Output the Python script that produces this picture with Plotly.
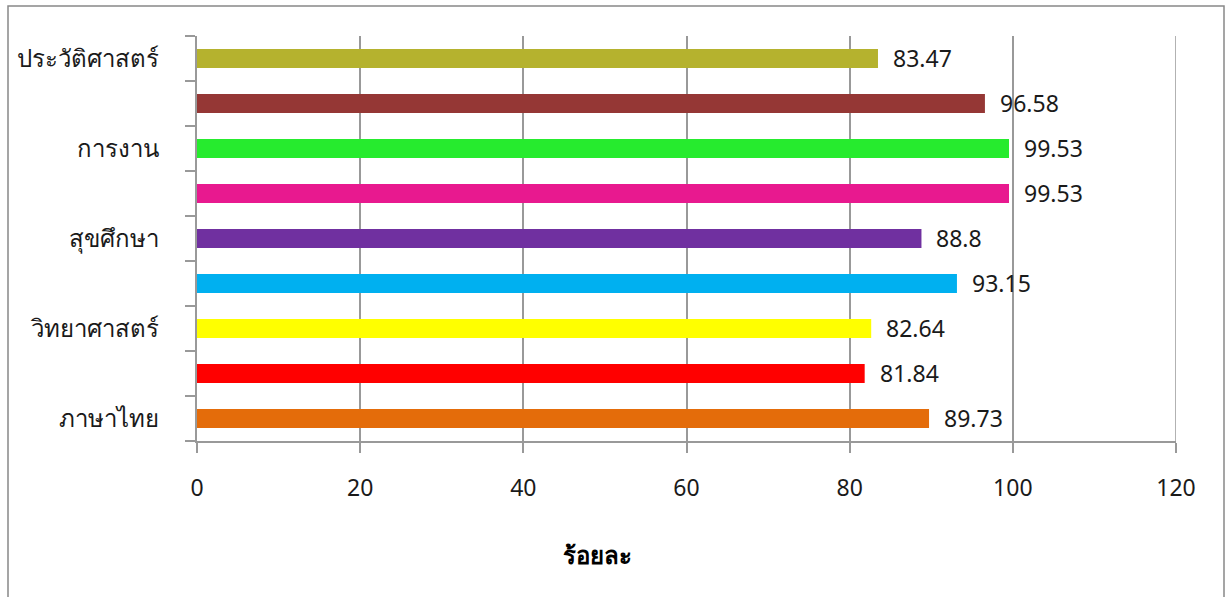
import plotly.graph_objects as go

categories = ["ภาษาไทย", "คณิตศาสตร์", "วิทยาศาสตร์", "สังคมศึกษา", "สุขศึกษา",
              "ศิลปะ", "การงาน", "ภาษาอังกฤษ", "ประวัติศาสตร์"]
values = [89.73, 81.84, 82.64, 93.15, 88.8, 99.53, 99.53, 96.58, 83.47]
colors = ["#E46C0A", "#FF0000", "#FFFF00", "#00B0F0", "#7030A0",
          "#E8198F", "#26EB2E", "#953735", "#B5B22E"]
shown_labels = ["ภาษาไทย", "", "วิทยาศาสตร์", "", "สุขศึกษา", "", "การงาน", "", "ประวัติศาสตร์"]
x_ticks = [0, 20, 40, 60, 80, 100, 120]
x_title = "ร้อยละ"

pos = list(range(len(categories)))

W, H = 1227, 597
L, R, T, B = 197, 51, 36, 156
pw, ph = W - L - R, H - T - B

fig = go.Figure()
fig.add_trace(go.Bar(
    x=values, y=pos, orientation="h",
    marker=dict(color=colors, line=dict(width=0)),
    width=0.42, hoverinfo="x+text", hovertext=categories,
))

for v, p in zip(values, pos):
    fig.add_annotation(x=v, y=p, text=f"{v:g}", showarrow=False,
                       xanchor="left", xshift=13, yshift=1,
                       font=dict(family="Noto Sans, Open Sans, sans-serif", size=23, color="#1a1a1a"))

tv = [p for p, s in zip(pos, shown_labels) if s]
tt = [s for s in shown_labels if s]

fig.update_layout(
    width=W, height=H,
    margin=dict(l=L, r=R, t=T, b=B),
    plot_bgcolor="white", paper_bgcolor="white",
    showlegend=False, bargap=0.58,
    xaxis=dict(range=[x_ticks[0], x_ticks[-1]], tickvals=x_ticks, ticks="outside", ticklen=10,
               tickcolor="#999999", tickwidth=1.5, ticklabelstandoff=16,
               showgrid=True, gridcolor="#999999", gridwidth=1.5,
               showline=True, linecolor="#999999", linewidth=1.5,
               zeroline=False, fixedrange=True,
               tickfont=dict(family="Noto Sans, Open Sans, sans-serif", size=23, color="#1a1a1a")),
    yaxis=dict(range=[-0.5, 8.5], tickmode="array", tickvals=tv, ticktext=tt,
               ticks="outside", ticklen=31, tickcolor="rgba(0,0,0,0)",
               showgrid=False, zeroline=False,
               showline=True, linecolor="#999999", linewidth=1.5,
               minor=dict(tickmode="array", tickvals=[i - 0.5 for i in range(len(categories) + 1)],
                          ticks="outside", ticklen=10, tickcolor="#999999", tickwidth=1.5,
                          showgrid=False),
               tickfont=dict(family="Noto Sans CJK SC, Noto Sans, sans-serif", size=24, color="#1a1a1a")),
)

# gridline at the last tick (range edge)
fig.add_shape(type="line", xref="x", yref="paper", x0=x_ticks[-1], x1=x_ticks[-1], y0=0, y1=1,
              line=dict(color="#999999", width=1.5), layer="below")

fig.add_annotation(xref="paper", yref="paper", x=(597 - L) / pw, y=(H - B - 553) / ph,
                   xanchor="center", yanchor="middle",
                   text=f"<b>{x_title}</b>", showarrow=False,
                   font=dict(family="Noto Sans CJK SC, Noto Sans, sans-serif", size=24, color="#000"))

fig.add_shape(type="rect", xref="paper", yref="paper", layer="below",
              x0=(8 - L) / pw, x1=(1224 - L) / pw,
              y0=(H - B - 605) / ph, y1=(H - B - 6) / ph,
              line=dict(color="#888888", width=1.5), fillcolor="rgba(0,0,0,0)")

fig.write_html("out.html", config={"displayModeBar": False},
               post_script="document.body.style.margin='0px';")
